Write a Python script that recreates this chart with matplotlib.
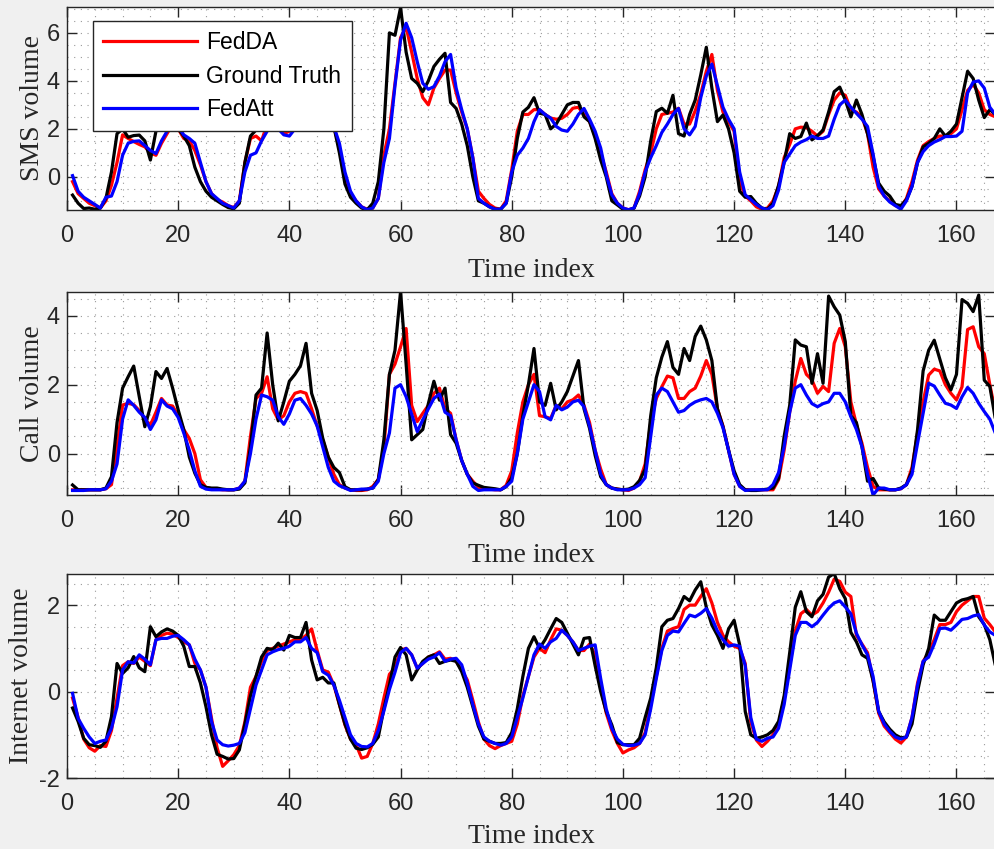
import numpy as np
import matplotlib
matplotlib.use('Agg')
import matplotlib.pyplot as plt
from matplotlib.ticker import MultipleLocator

plt.rcParams['axes.unicode_minus'] = False

# hourly time index, one week
t = np.arange(1, 168)

# ---- SMS ----
sms_fedda = [-0.2, -0.7, -0.9, -1.1, -1.2, -1.3, -1.0, -0.35, 0.6, 1.75,
             1.6, 1.47, 1.35, 1.25, 1.0, 0.9, 1.4, 1.8, 2.2, 2.0,
             1.6, 1.5, 1.1, 0.5, -0.2, -0.7, -0.95, -1.05, -1.2, -1.28,
             -1.0, 0.6, 1.6, 1.7, 1.5, 2.2, 2.2, 2.1, 1.8, 1.9,
             2.15, 2.35, 2.5, 2.7, 2.8, 2.6, 2.4, 2.1, 1.2, 0.0,
             -0.7, -1.0, -1.25, -1.35, -1.3, -0.9, 0.9, 2.0, 3.9, 5.8,
             6.25, 5.2, 4.1, 3.3, 3.0, 3.7, 4.1, 4.45, 4.45, 3.5,
             2.7, 2.0, 0.8, -0.6, -0.9, -1.15, -1.3, -1.35, -1.0, 0.3,
             1.9, 2.6, 2.6, 2.8, 2.8, 2.6, 2.45, 2.4, 2.44, 2.6,
             2.86, 2.9, 2.6, 2.3, 1.7, 1.0, 0.2, -0.7, -1.1, -1.3,
             -1.37, -1.3, -0.6, 0.3, 1.0, 2.0, 2.6, 2.65, 2.7, 2.86,
             2.2, 2.2, 2.75, 3.45, 4.4, 5.1, 3.6, 2.7, 2.3, 1.9,
             -0.2, -0.8, -1.0, -1.25, -1.35, -1.3, -1.0, -0.4, 0.8, 1.35,
             2.0, 2.07, 2.05, 1.9, 1.7, 1.9, 2.6, 3.2, 3.5, 3.4,
             2.8, 2.7, 2.5, 1.8, 0.4, -0.5, -0.8, -1.0, -1.2, -1.25,
             -0.9, -0.2, 0.7, 1.3, 1.47, 1.6, 1.7, 1.7, 1.8, 2.0,
             2.8, 3.6, 3.85, 3.5, 2.8, 2.6, 2.5]
sms_truth = [-0.76, -1.1, -1.32, -1.3, -1.35, -1.3, -0.9, 0.2, 1.8, 2.0,
             1.65, 1.72, 1.74, 1.5, 0.7, 1.9, 2.7, 3.0, 2.4, 2.0,
             1.7, 1.3, 0.4, -0.2, -0.6, -0.85, -1.0, -1.15, -1.28, -1.33,
             -1.1, 0.6, 1.7, 1.95, 2.3, 2.6, 2.8, 2.5, 2.7, 3.0,
             2.8, 2.6, 2.9, 3.2, 3.0, 2.8, 2.5, 2.1, 1.0, -0.3,
             -0.85, -1.1, -1.3, -1.37, -1.1, -0.2, 2.0, 6.0, 5.9, 7.05,
             5.2, 4.1, 3.9, 3.55, 4.0, 4.6, 4.9, 5.15, 3.1, 2.85,
             2.2, 1.3, 0.0, -1.0, -1.1, -1.25, -1.35, -1.35, -1.1, 0.0,
             1.6, 2.7, 2.9, 3.3, 2.65, 2.6, 2.0, 2.2, 2.6, 3.0,
             3.1, 3.1, 2.5, 2.3, 1.6, 0.7, 0.0, -1.0, -1.17, -1.35,
             -1.4, -1.3, -0.8, 0.0, 1.5, 2.72, 2.86, 2.65, 3.4, 1.8,
             1.7, 2.6, 3.2, 4.25, 5.4, 3.7, 2.3, 2.58, 2.0, 1.0,
             -0.6, -0.85, -0.82, -1.1, -1.3, -1.35, -1.1, -0.35, 0.6, 1.8,
             1.6, 1.68, 2.24, 1.54, 1.72, 1.95, 2.7, 3.55, 3.74, 3.2,
             2.5, 3.2, 2.6, 1.8, 0.85, -0.26, -0.6, -0.8, -1.15, -1.2,
             -0.95, -0.4, 0.6, 1.25, 1.4, 1.6, 2.0, 1.7, 1.9, 2.2,
             3.3, 4.4, 4.1, 3.2, 2.47, 2.8, 2.6]
sms_fedatt = [0.05, -0.6, -0.85, -1.0, -1.15, -1.3, -0.85, -0.8, -0.2, 0.9,
              1.4, 1.48, 1.5, 1.3, 1.1, 0.97, 1.5, 1.9, 2.2, 2.1,
              1.75, 1.6, 1.4, 0.6, -0.2, -0.7, -0.9, -1.1, -1.2, -1.3,
              -1.0, 0.2, 0.9, 1.0, 1.5, 1.9, 2.2, 2.0, 1.75, 1.7,
              2.0, 2.3, 2.5, 2.7, 2.9, 2.7, 2.5, 2.1, 1.4, 0.2,
              -0.6, -1.0, -1.25, -1.37, -1.3, -0.9, 0.6, 1.6, 3.8, 5.7,
              6.4, 5.8, 4.8, 3.9, 3.65, 3.76, 4.2, 4.8, 5.1, 3.7,
              2.8, 2.0, 0.8, -0.9, -1.1, -1.25, -1.35, -1.35, -1.1, 0.2,
              0.9, 1.2, 1.6, 2.3, 2.8, 2.6, 2.45, 2.1, 1.95, 1.9,
              2.2, 2.6, 2.85, 2.4, 1.9, 1.2, 0.1, -0.75, -1.1, -1.3,
              -1.37, -1.3, -0.7, 0.2, 0.8, 1.3, 1.85, 2.2, 2.6, 2.85,
              2.0, 1.75, 2.1, 3.3, 4.2, 4.7, 3.8, 2.9, 2.4, 2.0,
              0.2, -0.75, -0.95, -1.15, -1.3, -1.37, -1.2, -0.55, 0.6, 0.95,
              1.3, 1.45, 1.55, 1.7, 1.6, 1.6, 1.7, 2.4, 3.0, 3.2,
              2.9, 2.65, 2.4, 2.1, 0.95, -0.4, -0.8, -1.05, -1.2, -1.35,
              -1.0, -0.4, 0.6, 1.05, 1.3, 1.45, 1.55, 1.68, 1.68, 1.7,
              1.9, 3.5, 3.95, 4.0, 3.7, 2.9, 2.6]

# ---- Call ----
call_fedda = [-1.05, -1.05, -1.05, -1.05, -1.05, -1.05, -1.02, -0.9, 0.2, 1.41,
              1.46, 1.42, 1.25, 1.0, 0.83, 1.2, 1.6, 1.41, 1.38, 1.1,
              0.7, 0.44, 0.0, -0.76, -0.98, -1.02, -1.03, -1.05, -1.05, -1.05,
              -1.0, -0.8, 0.5, 1.6, 1.75, 2.23, 1.3, 0.98, 1.1, 1.5,
              1.75, 1.8, 1.75, 1.3, 0.8, 0.4, -0.1, -0.6, -0.9, -1.0,
              -1.05, -1.07, -1.07, -1.05, -0.95, -0.75, 0.15, 2.3, 2.6, 3.1,
              3.63, 1.4, 0.93, 1.17, 1.4, 1.75, 1.9, 1.3, 1.17, 0.4,
              -0.2, -0.6, -0.8, -0.98, -1.0, -1.03, -1.05, -1.05, -0.92, -0.5,
              0.6, 1.5, 2.0, 2.3, 1.1, 1.07, 1.02, 1.4, 1.3, 1.5,
              1.56, 1.7, 1.4, 0.9, 0.1, -0.45, -0.9, -1.0, -1.03, -1.05,
              -1.07, -1.0, -0.8, -0.3, 0.9, 1.6, 1.94, 2.25, 2.2, 1.6,
              1.6, 1.8, 1.9, 2.25, 2.7, 2.3, 1.3, 0.8, 0.1, -0.6,
              -0.95, -1.05, -1.05, -1.05, -1.05, -1.05, -1.05, -0.76, 0.1, 1.2,
              2.1, 2.76, 2.3, 2.14, 1.75, 1.95, 1.8, 3.2, 3.63, 3.1,
              1.5, 0.85, 0.3, -0.4, -0.95, -1.05, -1.05, -1.05, -1.05, -1.02,
              -0.9, -0.4, 0.6, 1.5, 2.28, 2.45, 2.4, 2.0, 1.75, 1.56,
              1.94, 3.6, 3.68, 3.1, 2.9, 2.0, 1.2]
call_truth = [-0.91, -1.05, -1.05, -1.05, -1.05, -1.05, -1.0, -0.67, 0.9, 1.9,
              2.23, 2.54, 1.65, 0.78, 1.36, 2.38, 2.18, 2.47, 1.9, 1.27,
              0.7, -0.1, -0.57, -0.9, -0.98, -1.0, -1.0, -1.03, -1.05, -1.05,
              -1.03, -0.85, 0.2, 1.7, 1.9, 3.5, 2.0, 0.95, 1.5, 2.1,
              2.3, 2.55, 3.2, 1.75, 1.25, 0.45, -0.1, -0.4, -0.55, -0.96,
              -1.05, -1.05, -1.05, -1.03, -1.0, -0.75, 0.4, 2.3, 3.0, 4.7,
              2.6, 0.4, 0.55, 0.7, 1.45, 2.1, 1.55, 1.9, 0.55, 0.3,
              -0.2, -0.6, -0.85, -0.92, -0.98, -1.0, -1.02, -1.05, -0.96, -0.7,
              0.0, 1.1, 2.0, 3.05, 1.5, 1.4, 2.04, 1.27, 1.5, 1.8,
              2.25, 2.7, 1.3, 0.73, -0.05, -0.67, -0.9, -1.0, -1.03, -1.05,
              -1.03, -0.96, -0.78, -0.45, 1.1, 2.2, 2.8, 3.25, 2.5, 2.3,
              3.05, 2.7, 3.4, 3.7, 3.3, 2.7, 1.3, 0.78, 0.1, -0.5,
              -0.9, -1.05, -1.07, -1.07, -1.05, -1.03, -1.0, -0.72, 0.5, 1.4,
              3.3, 3.15, 3.1, 2.04, 2.9, 2.04, 4.57, 4.26, 4.02, 3.25,
              1.1, 0.9, 0.2, -0.8, -0.72, -1.0, -1.03, -1.05, -1.05, -1.0,
              -0.9, -0.5, 0.7, 2.4, 3.0, 3.29, 2.75, 2.2, 1.85, 2.3,
              4.47, 4.36, 4.12, 4.6, 2.13, 1.95, 1.0]
call_fedatt = [-1.07, -1.07, -1.07, -1.05, -1.05, -1.05, -1.02, -0.8, -0.3, 1.0,
               1.56, 1.4, 1.2, 1.05, 0.7, 0.98, 1.56, 1.38, 1.3, 1.05,
               0.6, 0.1, -0.5, -0.95, -1.03, -1.05, -1.05, -1.05, -1.05, -1.05,
               -1.0, -0.8, 0.0, 1.0, 1.7, 1.65, 1.55, 1.07, 0.85, 1.15,
               1.55, 1.6, 1.4, 1.15, 0.8, 0.2, -0.4, -0.8, -0.93, -1.0,
               -1.07, -1.05, -1.03, -1.03, -1.0, -0.8, 0.0, 0.6, 1.9, 2.0,
               1.65, 1.15, 0.64, 0.98, 1.3, 1.6, 1.73, 1.2, 1.1, 0.4,
               -0.2, -0.6, -0.95, -1.07, -1.05, -1.05, -1.05, -1.05, -0.95, -0.8,
               0.0, 1.0, 1.5, 2.0, 1.8, 1.07, 0.98, 1.4, 1.27, 1.35,
               1.5, 1.55, 1.36, 0.8, 0.1, -0.6, -0.9, -1.0, -1.05, -1.05,
               -1.05, -1.0, -0.9, -0.7, 0.5, 1.7, 1.9, 1.8, 1.5, 1.2,
               1.25, 1.4, 1.5, 1.56, 1.6, 1.5, 1.17, 0.75, 0.1, -0.6,
               -0.95, -1.07, -1.05, -1.05, -1.05, -1.05, -0.9, -0.55, 0.2, 1.2,
               1.9, 2.0, 1.7, 1.45, 1.36, 1.45, 1.5, 1.75, 1.75, 1.5,
               1.07, 0.7, 0.2, -0.6, -1.2, -1.0, -1.0, -1.05, -1.05, -1.02,
               -0.9, -0.6, 0.3, 1.17, 2.04, 1.96, 1.7, 1.46, 1.41, 1.31,
               1.65, 1.92, 1.75, 1.46, 1.22, 1.0, 0.59]

# ---- Internet ----
net_fedda = [-0.15, -0.6, -1.1, -1.3, -1.38, -1.25, -1.27, -0.9, -0.15, 0.6,
             0.69, 0.65, 0.8, 0.7, 0.6, 1.2, 1.3, 1.35, 1.33, 1.25,
             1.15, 1.08, 0.65, 0.5, 0.1, -0.62, -1.3, -1.73, -1.6, -1.46,
             -1.25, -0.7, 0.1, 0.35, 0.7, 0.95, 1.0, 1.05, 1.1, 1.15,
             1.2, 1.2, 1.3, 1.45, 0.95, 0.5, 0.45, 0.15, -0.3, -0.77,
             -1.1, -1.23, -1.54, -1.5, -1.2, -0.75, -0.15, 0.4, 0.55, 0.96,
             1.0, 0.85, 0.54, 0.65, 0.8, 0.85, 0.92, 0.75, 0.77, 0.7,
             0.5, 0.27, -0.2, -0.7, -1.1, -1.25, -1.32, -1.25, -1.2, -1.15,
             -0.75, -0.1, 0.35, 0.8, 1.0, 0.9, 1.2, 1.45, 1.42, 1.3,
             1.15, 0.95, 0.95, 1.1, 0.85, 0.1, -0.5, -0.9, -1.2, -1.42,
             -1.35, -1.3, -1.2, -0.95, -0.3, 0.35, 1.0, 1.4, 1.46, 1.5,
             1.9, 2.0, 2.0, 2.2, 2.38, 2.05, 1.6, 1.3, 1.15, 1.05,
             1.0, 0.65, -0.7, -1.12, -1.27, -1.15, -1.0, -0.77, -0.15, 0.6,
             1.4, 1.8, 1.9, 1.77, 1.85, 2.05, 2.3, 2.6, 2.55, 2.3,
             2.2, 1.3, 1.1, 0.9, 0.25, -0.5, -0.8, -0.95, -1.1, -1.19,
             -1.05, -0.6, 0.2, 0.7, 0.9, 1.2, 1.55, 1.55, 1.6, 1.85,
             2.0, 2.1, 2.2, 2.2, 1.7, 1.55, 1.38]
net_truth = [-0.38, -0.69, -1.08, -1.23, -1.25, -1.29, -1.15, -0.58, 0.65, 0.42,
             0.55, 0.81, 0.55, 0.46, 1.5, 1.27, 1.38, 1.45, 1.4, 1.3,
             1.05, 0.58, 0.58, 0.2, -0.35, -1.0, -1.45, -1.5, -1.56, -1.55,
             -1.35, -0.75, -0.1, 0.35, 0.8, 1.0, 0.97, 1.12, 0.96, 1.3,
             1.25, 1.25, 1.6, 0.73, 0.27, 0.33, 0.2, 0.2, -0.3, -0.75,
             -1.1, -1.31, -1.34, -1.3, -1.22, -1.05, -0.4, 0.15, 0.8, 1.02,
             0.85, 0.27, 0.5, 0.7, 0.8, 0.85, 0.65, 0.7, 0.73, 0.7,
             0.46, 0.1, -0.35, -0.8, -1.1, -1.15, -1.2, -1.2, -1.18, -0.95,
             -0.4, 0.35, 1.0, 1.27, 1.0, 1.2, 1.45, 1.69, 1.6, 1.35,
             1.1, 0.85, 1.23, 1.25, 0.6, 0.0, -0.46, -0.77, -1.18, -1.23,
             -1.23, -1.23, -1.08, -0.6, -0.15, 0.55, 1.5, 1.65, 1.69, 1.92,
             2.2, 2.1, 2.35, 2.54, 1.95, 1.54, 1.3, 1.0, 1.45, 1.65,
             1.08, -0.46, -1.0, -1.08, -1.05, -1.0, -0.9, -0.69, -0.1, 0.9,
             1.95, 2.31, 1.85, 1.73, 2.1, 2.25, 2.65, 2.73, 2.38, 2.15,
             1.37, 1.15, 0.85, 0.77, 0.25, -0.46, -0.7, -0.87, -1.0, -1.07,
             -1.05, -0.75, 0.0, 0.62, 1.0, 1.77, 1.65, 1.65, 1.85, 2.05,
             2.12, 2.15, 2.2, 1.73, 1.55, 1.2, 0.6]
net_fedatt = [-0.04, -0.62, -0.85, -1.05, -1.2, -1.15, -1.12, -0.85, -0.35, 0.5,
              0.69, 0.66, 0.85, 0.75, 0.62, 1.2, 1.23, 1.23, 1.28, 1.3,
              1.2, 1.08, 0.75, 0.5, 0.1, -0.69, -1.12, -1.23, -1.26, -1.24,
              -1.2, -0.95, -0.4, 0.15, 0.5, 0.85, 0.92, 0.97, 1.0, 1.05,
              1.15, 1.15, 1.25, 1.0, 0.9, 0.46, 0.38, 0.15, -0.2, -0.6,
              -1.0, -1.2, -1.27, -1.28, -1.2, -0.9, -0.45, 0.05, 0.45, 0.9,
              1.0, 0.85, 0.54, 0.65, 0.75, 0.8, 0.9, 0.7, 0.75, 0.77,
              0.62, 0.2, -0.3, -0.75, -1.05, -1.15, -1.2, -1.24, -1.2, -1.05,
              -0.6, -0.15, 0.35, 0.85, 1.1, 1.0, 1.15, 1.23, 1.42, 1.3,
              1.15, 0.95, 1.0, 1.05, 1.08, 0.3, -0.4, -0.85, -1.1, -1.22,
              -1.25, -1.24, -1.2, -1.0, -0.4, 0.3, 0.95, 1.3, 1.4, 1.38,
              1.58, 1.77, 1.73, 1.81, 1.92, 1.7, 1.4, 1.2, 1.05, 1.08,
              1.05, 0.6, -0.6, -1.1, -1.15, -1.08, -1.05, -0.85, -0.3, 0.5,
              1.3, 1.6, 1.6, 1.5, 1.6, 1.77, 1.93, 2.05, 2.1, 1.96,
              1.8, 1.35, 1.08, 0.85, 0.35, -0.45, -0.75, -0.92, -1.05, -1.1,
              -1.05, -0.6, 0.15, 0.7, 0.8, 1.1, 1.46, 1.47, 1.42, 1.54,
              1.67, 1.69, 1.75, 1.78, 1.54, 1.38, 1.3]

ylabels = ['SMS volume', 'Call volume', 'Internet volume']
yticks = [[0, 2, 4, 6], [0, 2, 4], [-2, 0, 2]]
ylims = [(-1.38, 7.08), (-1.2, 4.69), (-2.0, 2.72)]
series = [(sms_fedda, sms_truth, sms_fedatt),
          (call_fedda, call_truth, call_fedatt),
          (net_fedda, net_truth, net_fedatt)]

# axes boxes in figure fractions
boxes = [[0.0674, 0.7527, 0.934, 0.2391],
         [0.0674, 0.4170, 0.934, 0.2391],
         [0.0674, 0.0836, 0.934, 0.2403]]
ypads = [1.5, 1.5, 3.5]
xpads = [8, 8, 6]

edge = '#262626'
fig = plt.figure(figsize=(9.94, 8.49), dpi=100, facecolor='#f0f0f0')

for i in range(3):
    ax = fig.add_axes(boxes[i])
    fedda, truth, fedatt = series[i]
    l1, = ax.plot(t, fedda, color='#ff0000', lw=2.3, label='FedDA')
    l2, = ax.plot(t, truth, color='black', lw=2.3, label='Ground Truth')
    l3, = ax.plot(t, fedatt, color='#0000ff', lw=2.3, label='FedAtt')

    ax.set_xlim(0, 167)
    ax.set_ylim(*ylims[i])
    ax.set_xticks(np.arange(0, 161, 20))
    ax.set_yticks(yticks[i])
    ax.xaxis.set_minor_locator(MultipleLocator(5))
    ax.yaxis.set_minor_locator(MultipleLocator(0.5))
    ax.grid(which='both', linestyle=(0, (1, 5)), color='#9a9a9a', lw=0.8)
    ax.set_axisbelow(True)

    ax.tick_params(which='major', direction='in', length=7, width=1,
                   top=True, right=True, color=edge, labelcolor=edge)
    ax.tick_params(which='minor', length=0)
    ax.tick_params(axis='x', pad=11)
    ax.tick_params(axis='y', pad=5)
    for lab in ax.get_xticklabels() + ax.get_yticklabels():
        lab.set_fontfamily('Liberation Sans')
        lab.set_fontsize(17)
    for sp in ax.spines.values():
        sp.set_color(edge)
        sp.set_linewidth(1.0)

    ax.set_xlabel('Time index', fontfamily='Liberation Serif', fontsize=20,
                  color=edge, labelpad=xpads[i])
    ax.set_ylabel(ylabels[i], fontfamily='Liberation Serif', fontsize=20,
                  color=edge, labelpad=ypads[i])

    if i == 0:
        leg = ax.legend(handles=[l1, l2, l3], loc='upper left',
                        bbox_to_anchor=(0.028, 0.931), borderaxespad=0,
                        prop={'family': 'Liberation Sans', 'size': 16.5},
                        handlelength=4.1, handletextpad=0.4,
                        labelspacing=0.45, borderpad=0.45,
                        fancybox=False, framealpha=1, edgecolor=edge)
        leg.get_frame().set_linewidth(1.0)

fig.savefig('out.png', dpi=100, facecolor=fig.get_facecolor())
